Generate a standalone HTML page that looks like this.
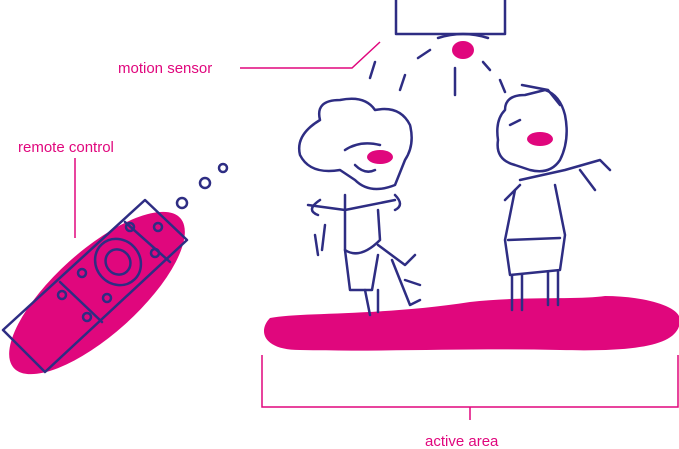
<!DOCTYPE html><html><head><style>body{margin:0;background:#fff}svg{display:block}text{font-family:"Liberation Sans",sans-serif;font-size:15px;fill:#e0077d}</style></head><body>
<svg width="679" height="449" viewBox="0 0 679 449" xmlns="http://www.w3.org/2000/svg">
<g fill="#e0077d">
<ellipse cx="97" cy="293" rx="112" ry="42" transform="rotate(-42 97 293)"/>
<path d="M270 318 C300 312 380 316 470 302 C520 296 580 300 605 296 C640 296 680 305 680 320 C680 345 640 352 560 350 C470 348 380 352 300 350 C262 350 258 330 270 318Z"/>
<ellipse cx="463" cy="50" rx="11" ry="9"/>
<ellipse cx="380" cy="157" rx="13" ry="7"/>
<ellipse cx="540" cy="139" rx="13" ry="7"/>
</g>
<g fill="none" stroke="#2e2d83" stroke-width="2.5" stroke-linecap="round" stroke-linejoin="round">
<path d="M396 0 V34 H505 V0"/>
<path d="M438 38 Q463 30 488 38"/>
<path d="M430 50 L418 58 M405 75 L400 90 M375 62 L370 78"/>
<path d="M483 62 L490 70 M500 80 L505 92 M455 68 L455 95"/>
<path d="M145 200 L187 240 L45 372 L3 330 Z M60 282 L102 322 M125 222 L170 262"/>
<ellipse cx="118" cy="262" rx="22" ry="24" transform="rotate(-42 118 262)"/>
<ellipse cx="118" cy="262" rx="12" ry="13" transform="rotate(-42 118 262)"/>
<circle cx="182" cy="203" r="5"/><circle cx="205" cy="183" r="5"/><circle cx="223" cy="168" r="4"/>
<circle cx="130" cy="227" r="4"/><circle cx="158" cy="227" r="4"/><circle cx="155" cy="253" r="4"/>
<circle cx="82" cy="273" r="4"/><circle cx="62" cy="295" r="4"/><circle cx="87" cy="317" r="4"/><circle cx="107" cy="298" r="4"/>
<path d="M320 120 Q315 100 340 100 Q365 95 375 110 Q400 105 410 125 Q415 145 405 160 L395 185 Q370 195 355 180 L340 170 Q310 175 300 155 Q295 135 320 120Z"/>
<path d="M345 150 Q360 140 380 145 M355 165 Q365 175 375 170"/>
<path d="M308 205 L345 210 L395 200 M320 200 Q305 210 318 215 M395 195 Q405 205 395 210"/>
<path d="M345 195 L345 250 Q360 260 380 240 L378 210"/>
<path d="M345 250 L350 290 L372 290 L378 255 M378 245 L405 265 L415 255"/>
<path d="M365 290 L370 315 M378 290 L378 312 M392 260 L410 305 L420 300 M405 280 L420 285"/>
<path d="M325 225 L322 250 M315 235 L318 255"/>
<path d="M505 110 Q505 95 525 95 L545 90 Q560 95 565 115 Q570 140 560 160 Q550 175 530 170 L515 165 Q495 160 498 140 Q495 120 505 110Z"/>
<path d="M522 85 L548 90 L560 105 M510 125 L520 120"/>
<path d="M520 180 L565 170 L600 160 L610 170 M520 185 L505 200 M580 170 L595 190"/>
<path d="M515 190 L505 240 L510 275 L560 270 L565 235 L555 185"/>
<path d="M512 275 L512 310 M522 275 L522 310 M548 272 L548 305 M558 272 L558 305"/>
<path d="M508 240 L560 238"/>
</g>
<g fill="none" stroke="#e0077d" stroke-width="1.5">
<path d="M240 68 H352 L380 42"/>
<path d="M75 158 V238"/>
<path d="M262 355 V407 H678 V355 M470 407 V420"/>
</g>
<text x="118" y="73">motion sensor</text>
<text x="18" y="152">remote control</text>
<text x="425" y="446">active area</text>
</svg>
</body></html>
